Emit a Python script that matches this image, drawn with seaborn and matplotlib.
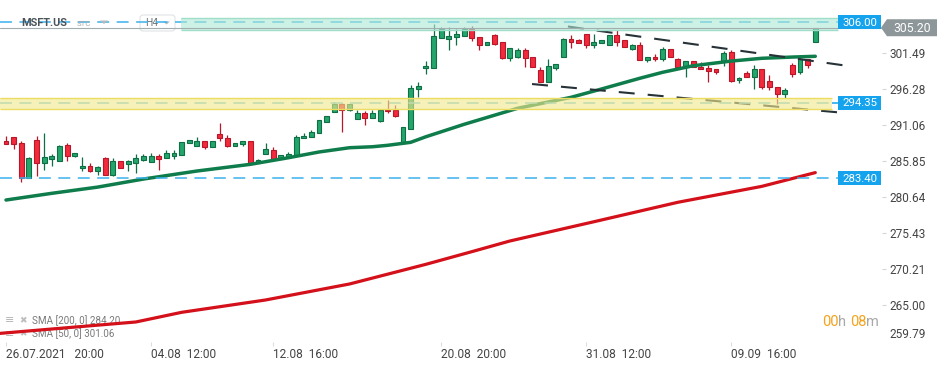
import numpy as np
import matplotlib
matplotlib.use("Agg")
import matplotlib.pyplot as plt
import matplotlib.transforms as mtransforms
from matplotlib.patches import Rectangle, Polygon, FancyBboxPatch
import seaborn as sns

sns.set_theme(style="white")
plt.rcParams['font.family'] = ['Roboto', 'DejaVu Sans']
plt.rcParams['lines.scale_dashes'] = False

# ---------------- data ----------------
opens = [288.74, 289.32, 288.45, 283.37, 288.88, 285.55, 286.22, 285.93, 288.16, 286.65,
         284.82, 285.16, 284.48, 286.32, 283.90, 285.84, 285.40, 285.64, 286.07, 285.69,
         286.56, 286.27, 286.65, 286.80, 288.45, 288.10, 288.74, 287.95, 289.75, 289.17,
         288.01, 288.39, 288.74, 285.55, 286.94, 287.43, 286.22, 286.42, 286.71, 289.17,
         289.32, 289.90, 291.58, 292.94, 294.14, 293.23, 291.93, 292.80, 292.07, 291.68,
         293.32, 293.32, 288.53, 290.48, 296.27, 299.32, 299.40, 303.75, 303.52, 303.81,
         304.04, 305.01, 303.81, 302.65, 304.14, 303.08, 300.85, 301.00, 301.97, 300.91,
         299.03, 297.37, 299.40, 301.00, 303.56, 303.42, 304.29, 302.74, 302.94, 302.74,
         304.14, 303.42, 302.16, 302.65, 300.48, 300.91, 300.62, 302.11, 300.66, 299.69,
         300.42, 299.55, 299.36, 299.22, 300.42, 301.64, 297.58, 298.59, 298.10, 299.22,
         297.48, 296.61, 295.64, 299.80, 298.74, 300.62, 303.08]
closes = [288.39, 288.30, 283.37, 286.32, 285.64, 286.42, 286.61, 288.06, 286.65, 287.00,
          285.16, 284.48, 285.01, 283.90, 285.84, 284.82, 285.84, 286.27, 286.56, 286.61,
          286.22, 287.00, 287.00, 288.59, 288.88, 288.74, 287.95, 288.74, 289.17, 288.01,
          288.45, 288.74, 285.55, 285.98, 287.58, 286.22, 286.71, 286.90, 289.32, 289.51,
          290.08, 291.82, 292.36, 294.14, 293.23, 294.10, 292.84, 292.07, 292.84, 293.23,
          293.09, 292.36, 290.77, 296.42, 296.75, 299.69, 304.00, 305.01, 304.00, 304.29,
          305.01, 303.66, 302.65, 303.08, 302.88, 300.81, 302.21, 301.97, 300.77, 299.55,
          297.37, 299.65, 299.90, 303.56, 303.17, 303.03, 302.74, 303.13, 303.42, 304.10,
          303.17, 302.36, 302.69, 300.48, 300.91, 300.62, 302.11, 301.00, 299.55, 300.42,
          299.55, 299.17, 298.97, 298.82, 301.53, 297.48, 297.91, 298.10, 299.22, 296.56,
          296.56, 295.64, 296.13, 298.53, 300.62, 299.75, 305.20]
highs = [289.46, 289.32, 288.78, 286.46, 289.51, 289.94, 286.90, 288.16, 288.45, 287.00,
         286.46, 285.59, 285.20, 286.46, 286.32, 285.84, 286.03, 286.85, 286.85, 287.00,
         286.85, 287.43, 287.43, 288.59, 288.88, 289.32, 288.74, 288.74, 291.39, 289.61,
         288.45, 288.74, 288.74, 286.22, 288.49, 287.87, 286.71, 287.23, 289.65, 289.90,
         290.37, 291.82, 292.36, 294.39, 294.24, 294.10, 293.27, 293.09, 293.27, 293.23,
         294.72, 293.95, 290.77, 296.90, 297.29, 300.37, 305.69, 305.30, 305.30, 305.01,
         305.30, 305.45, 303.81, 303.08, 304.29, 303.08, 302.21, 302.21, 302.21, 300.91,
         299.46, 300.66, 299.90, 303.66, 304.14, 303.56, 304.29, 304.29, 303.42, 304.10,
         304.87, 303.42, 302.88, 303.17, 300.91, 301.39, 302.36, 302.11, 300.85, 300.42,
         300.42, 300.19, 299.80, 299.22, 301.87, 302.01, 298.06, 298.93, 299.80, 299.22,
         298.35, 296.61, 296.46, 300.04, 301.20, 300.62, 305.20]
lows = [288.39, 287.66, 282.88, 283.37, 283.75, 284.62, 285.20, 285.93, 285.93, 286.51,
        284.43, 284.33, 283.85, 283.90, 283.75, 284.82, 284.48, 284.19, 285.93, 285.69,
        284.62, 286.27, 286.22, 286.80, 288.45, 288.10, 287.58, 287.95, 288.82, 287.87,
        288.01, 288.01, 285.55, 285.55, 286.94, 286.22, 286.22, 286.42, 286.71, 289.17,
        289.32, 289.90, 291.58, 292.94, 290.04, 293.09, 291.93, 291.06, 292.07, 291.58,
        292.80, 292.22, 288.53, 290.48, 295.11, 298.45, 299.40, 303.66, 301.93, 302.74,
        304.04, 303.32, 302.01, 302.65, 302.74, 300.71, 300.42, 300.85, 299.55, 299.55,
        297.37, 297.37, 299.03, 301.00, 302.30, 303.03, 302.30, 302.30, 302.94, 302.74,
        302.59, 302.36, 302.01, 300.48, 300.19, 300.33, 300.33, 301.00, 299.32, 298.10,
        299.55, 299.17, 297.37, 298.53, 299.69, 297.37, 297.23, 298.10, 296.36, 296.32,
        296.22, 294.10, 295.06, 298.10, 298.45, 299.32, 303.08]

sma50_idx = [0, 6, 12, 18, 25, 32, 37, 41, 45, 48, 50, 53, 55, 60, 67, 74, 78, 83, 86, 90, 95, 99, 103, 106]
sma50_val = [280.23, 281.20, 282.10, 283.27, 284.43, 285.40, 286.36, 287.19, 287.81, 287.95, 288.16, 288.59,
             289.40, 291.20, 293.52, 295.11, 296.32, 297.87, 298.74, 299.69, 300.37, 300.77, 300.95, 301.06]
sma200_idx = [-1, 8, 17, 23, 34, 45, 55, 61, 66, 77, 88, 99, 106]
sma200_val = [260.88, 261.72, 262.55, 263.95, 265.74, 268.06, 270.91, 272.74, 274.29, 277.08, 279.90, 282.21, 284.20]

trend_upper_x = [73.6, 111.0]
trend_upper_y = [305.38, 299.55]
trend_lower_x = [68.9, 110.3]
trend_lower_y = [297.04, 292.80]

resist_zone = (304.87, 306.68)
support_zone = (293.37, 295.01)
level_resist = 306.00
level_support = 294.35
level_low = 283.40
last_price = 305.20

x_tick_idx = [0, 19, 35, 57, 76, 95]
x_tick_labels = ["26.07.2021   20:00", "04.08  12:00", "12.08  16:00",
                 "20.08  20:00", "31.08  12:00", "09.09  16:00"]
y_tick_vals = [301.49, 296.28, 291.06, 285.85, 280.64, 275.43, 270.21, 265.00]
y_bottom_label = "259.79"

# ---------------- styling ----------------
W, H = 950, 367
GREEN, GREEN_E = "#24a56c", "#0e6e44"
RED, RED_E = "#f22a3d", "#b8172a"
BLUE = "#3cb2ec"
LBL_BLUE = "#16a3ee"

fig = plt.figure(figsize=(W / 100, H / 100), dpi=100)
fig.patch.set_facecolor("white")
ax = fig.add_axes([0, 25 / H, 886 / W, 330 / H])
ax.set_facecolor("white")
ax.set_autoscale_on(False)
ax.set_xlim(-0.786, 115.26)
ax.set_ylim(259.65, 307.48)

pix = mtransforms.Affine2D().scale(1.0 / W, -1.0 / H).translate(0, 1) + fig.transFigure

def i_of(px):
    return (px - 6) / 7.635

def py_of(price):
    return H - ax.transData.transform((0, price))[1]

# candles
o = np.array(opens); c = np.array(closes); hi = np.array(highs); lo = np.array(lows)
idx = np.arange(len(o))
up = c >= o
blo = np.minimum(o, c)
bh = np.maximum(np.abs(c - o), 0.12)
for mask, fc, ec in [(up, GREEN, GREEN_E), (~up, RED, RED_E)]:
    ax.vlines(idx[mask], lo[mask], hi[mask], color=ec, lw=0.9, zorder=3)
    ax.bar(idx[mask], bh[mask], bottom=blo[mask], width=0.64, color=fc,
           edgecolor=ec, linewidth=0.8, zorder=4)

# moving averages
sns.lineplot(x=sma200_idx, y=sma200_val, ax=ax, color="#d4101a", linewidth=2.3,
             zorder=5, legend=False, errorbar=None)
sns.lineplot(x=sma50_idx, y=sma50_val, ax=ax, color="#0f7c4c", linewidth=2.5,
             zorder=5, legend=False, errorbar=None)

# trend lines
for tx, ty in [(trend_upper_x, trend_upper_y), (trend_lower_x, trend_lower_y)]:
    ax.plot(tx, ty, color="#263238", lw=1.5, ls=(0, (11.5, 9.4)), zorder=6,
            solid_capstyle="butt", dash_capstyle="butt")

# dashed horizontal levels (under the zones)
ax.axhline(level_resist, xmin=0, xmax=838 / 886, color=BLUE, lw=1.1, ls=(0, (8.6, 5.4)), zorder=6.5)
ax.axhline(level_support, xmin=0, xmax=832 / 886, color="#6cc6e6", lw=1.1, ls=(0, (8.6, 5.4)), zorder=6.5)
ax.hlines(level_support, i_of(832), i_of(838), color=LBL_BLUE, lw=1.1, zorder=6.5)
ax.axhline(level_low, xmin=0, xmax=838 / 886, color=BLUE, lw=1.1, ls=(0, (8.6, 5.4)), zorder=6.5)

# zones
ax.add_patch(Rectangle((i_of(0), support_zone[0]), i_of(832) - i_of(0), support_zone[1] - support_zone[0],
                       facecolor="#f1e78e", alpha=0.62, edgecolor="none", zorder=7))
ax.hlines(support_zone, i_of(0), i_of(832), color="#eddc62", lw=1.0, zorder=7.2)
ax.add_patch(Rectangle((i_of(181), resist_zone[0]), i_of(838) - i_of(181), resist_zone[1] - resist_zone[0],
                       facecolor="#aee8d5", alpha=0.6, edgecolor="none", zorder=7))
ax.hlines(resist_zone, i_of(181), i_of(838), color="#9fdfca", lw=1.0, zorder=7.2)

# current price line
ax.axhline(last_price, xmin=0, xmax=881 / 886, color="#a3acaf", lw=0.8, zorder=8)

# axes styling
for s in ax.spines.values():
    s.set_visible(False)
ax.grid(False)
ax.set_xlabel(""); ax.set_ylabel("")
ax.yaxis.tick_right()
ax.set_yticks(y_tick_vals)
ax.set_yticklabels([f"{v:.2f}" for v in y_tick_vals])
ax.tick_params(axis="y", direction="in", length=3, width=0.8, color="#d3d8da",
               pad=2.4, labelsize=8.5, labelcolor="#444444", right=True, left=False)
ax.set_xticks(x_tick_idx)
ax.set_xticklabels(x_tick_labels, ha="left")
ax.tick_params(axis="x", direction="out", length=3, width=0.8, color="#dddddd",
               pad=1.5, labelsize=8.6, labelcolor="#444444", bottom=True)
fig.text(889.5, 335, y_bottom_label, transform=pix, ha="left", va="center",
         fontsize=8.5, color="#444444")

# level labels
for val in [level_resist, level_support, level_low]:
    cy = py_of(val)
    fig.add_artist(Rectangle((838, cy - 7), 43, 14, transform=pix, facecolor=LBL_BLUE,
                             edgecolor="none", zorder=20))
    fig.text(859.5, cy + 0.5, f"{val:.2f}", transform=pix, ha="center", va="center",
             color="white", fontsize=8.2, zorder=21)
cy = py_of(last_price)
fig.add_artist(Polygon([(881, cy), (887, cy - 8.5), (937, cy - 8.5), (937, cy + 8.5), (887, cy + 8.5)],
                       closed=True, transform=pix, facecolor="#8d9699", edgecolor="none", zorder=20))
fig.text(912, cy + 0.5, f"{last_price:.2f}", transform=pix, ha="center", va="center",
         color="white", fontsize=8.8, zorder=21)

# header
ax.add_patch(FancyBboxPatch((140, 15), 35, 16, boxstyle="round,pad=0,rounding_size=3",
                            transform=pix, facecolor="white", edgecolor="#dfe3e5", lw=0.8, zorder=6.4))
ax.text(21, 23.5, "MSFT.US", transform=pix, ha="left", va="center", fontsize=7.8,
        fontweight="bold", color="#4a5358", zorder=9)
ax.text(77, 24.5, "STC", transform=pix, ha="left", va="center", fontsize=5.6,
        color="#a3a9ac", zorder=9)
ax.add_patch(Polygon([(100, 20.5), (108, 20.5), (104, 24)], closed=True, transform=pix,
                     facecolor="#b4babd", edgecolor="none", zorder=9))
ax.text(145, 23.5, "H4", transform=pix, ha="left", va="center", fontsize=7.4,
        color="#6a7276", zorder=6.45)
ax.add_patch(Polygon([(163, 21.5), (170, 21.5), (166.5, 24.5)], closed=True, transform=pix,
                     facecolor="#b4babd", edgecolor="none", zorder=6.45))

# SMA legend (bottom-left), beneath the moving-average line
for yy, label in [(320.5, "SMA [200, 0] 284.20"), (334, "SMA [50, 0] 301.06")]:
    ax.text(5, yy, "\u2261", transform=pix, ha="left", va="center", fontsize=8,
            color="#b5b5b5", zorder=4.5)
    ax.text(19, yy, "\u2716", transform=pix, ha="left", va="center", fontsize=6.5,
            color="#bdbdbd", zorder=4.5)
    ax.text(32, yy, label, transform=pix, ha="left", va="center", fontsize=7.1,
            color="#7a7a7a", zorder=4.5)

# countdown
ORANGE, GREY = "#f5a21c", "#a8a8a8"
for xx, s, col in [(822, "00", ORANGE), (838.3, "h", GREY), (849.9, "08", ORANGE), (866.2, "m", GREY)]:
    fig.text(xx, 322, s, transform=pix, ha="left", va="center", fontsize=10.5, color=col, zorder=21)

fig.savefig("out.png", dpi=100)
